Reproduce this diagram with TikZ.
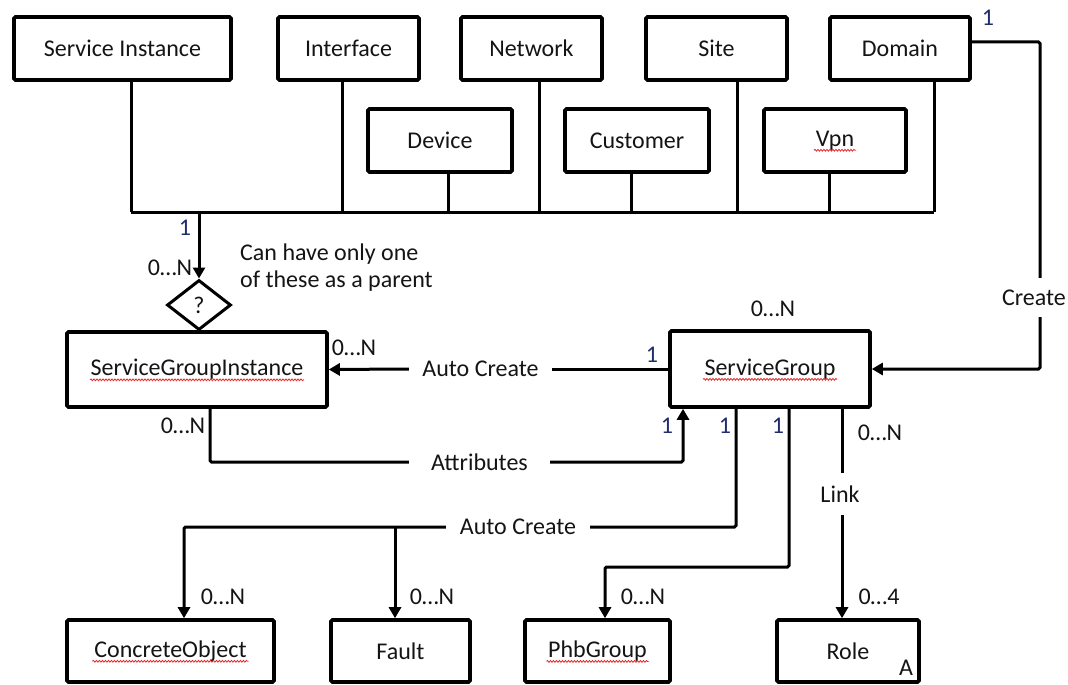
\documentclass[tikz,border=0pt]{standalone}
\usepackage{fontspec}
\setmainfont{Carlito}
\usetikzlibrary{arrows.meta,shapes.geometric,decorations.pathmorphing,calc}
\definecolor{ink}{RGB}{20,20,20}
\definecolor{mult}{RGB}{31,45,110}
\definecolor{spell}{RGB}{230,40,40}

\begin{document}
\begin{tikzpicture}[x=1pt,y=-1pt,
  font=\fontsize{24}{28}\selectfont,
  box/.style={draw, line width=3.6pt, rounded corners=1.5pt, inner sep=0pt, text=ink},
  wire/.style={line width=3pt, rounded corners=1.5pt},
  arr/.style={wire, -{Triangle[length=11pt,width=12pt]}},
  gap/.style={inner sep=0pt, text=ink},
  num/.style={inner sep=0pt, text=ink},
  one/.style={inner sep=0pt, text=mult},
  wavy/.style={draw=spell, line width=0.8pt, decorate,
    decoration={snake, amplitude=0.9pt, segment length=3pt}}
]
\useasboundingbox (0,0) rectangle (1068,685);

% top row of entities
\node[box, minimum width=217pt, minimum height=63pt] (si)    at (122.5,48.5) {Service Instance};
\node[box, minimum width=141pt, minimum height=63pt] (iface) at (348.5,48.5) {Interface};
\node[box, minimum width=141pt, minimum height=63pt] (net)   at (531.5,48.5) {Network};
\node[box, minimum width=141pt, minimum height=63pt] (site)  at (716.5,48.5) {Site};
\node[box, minimum width=140pt, minimum height=63pt] (dom)   at (900,48.5)   {Domain};
% second row
\node[box, minimum width=144pt, minimum height=63pt] (dev)   at (440,140.5)  {Device};
\node[box, minimum width=144pt, minimum height=63pt] (cust)  at (637,140.5)  {Customer};
\node[box, minimum width=142pt, minimum height=63pt] (vpn)   at (835,140.5)  {Vpn};

% parent choice
\node[draw, diamond, line width=3pt, inner sep=0pt, minimum width=64pt,
      minimum height=50pt, text=ink] (q) at (199,305) {?};

% groups
\node[box, minimum width=260pt, minimum height=75pt] (sgi) at (197,369.5) {ServiceGroupInstance};
\node[box, minimum width=200pt, minimum height=76pt] (sg)  at (770,369)   {ServiceGroup};

% bottom row
\node[box, minimum width=207pt, minimum height=62pt] (co)    at (170.5,651) {ConcreteObject};
\node[box, minimum width=139pt, minimum height=62pt] (fault) at (400.5,651) {Fault};
\node[box, minimum width=145pt, minimum height=62pt] (phb)   at (597.5,651) {PhbGroup};
\node[box, minimum width=142pt, minimum height=62pt] (role)  at (848,651)   {Role};
\node[num] (roleA) at (906,668) {A};

% connector labels sitting in gaps of the lines
\node[gap, minimum width=143pt] (ac1)  at (480.5,369) {Auto Create};
\node[gap, minimum width=141pt] (attr) at (479.5,462) {Attributes};
\node[gap, minimum width=144pt] (ac2)  at (518,527)   {Auto Create};
\node[gap, minimum height=42pt] (lk)   at (840,494)   {Link};
\node[gap, minimum height=39pt] (cr)   at (1034,297.5) {Create};
\coordinate (crX) at (1040,0);

% common bus joining the possible parents
\coordinate (busY) at (0,212);
\foreach \n/\dx in {si/8.5, iface/-6.5, net/7.5, site/20.5, dom/34, dev/8, cust/-6, vpn/-6}{
  \coordinate (drop) at ([xshift=\dx pt]\n.south);
  \draw[wire] (drop) -- (drop |- busY);
}
\coordinate (siD)  at ([xshift=8.5pt]si.south);
\coordinate (domD) at ([xshift=34pt]dom.south);
\draw[wire] (siD |- busY) -- (domD |- busY);
\draw[arr] (q.north |- busY) -- (q.north);

% Domain creates ServiceGroup
\coordinate (domR) at ([yshift=6.5pt]dom.east);
\draw[wire] (domR) -| (crX |- cr.north);
\draw[arr] (crX |- cr.south) |- (sg.east);

% ServiceGroup <-> ServiceGroupInstance
\draw[wire] (sg.west) -- (ac1.east);
\draw[arr] (ac1.west) -- (sgi.east);
\coordinate (sgiD) at ([xshift=13pt]sgi.south);
\coordinate (sgA)  at ([xshift=-87pt]sg.south);
\draw[wire] (sgiD) |- (attr.west);
\draw[arr] (attr.east) -| (sgA);

% ServiceGroup auto-creates objects and faults
\coordinate (sgC) at ([xshift=-34pt]sg.south);
\coordinate (coT) at ([xshift=13.5pt]co.north);
\coordinate (fT)  at ([xshift=-5.5pt]fault.north);
\draw[wire] (sgC) |- (ac2.east);
\draw[arr] (ac2.west) -| (coT);
\draw[arr] (fT |- ac2.west) -- (fT);

% PhbGroup
\coordinate (sgP) at ([xshift=19pt]sg.south);
\coordinate (pT)  at ([xshift=7.5pt]phb.north);
\coordinate (pkY) at (0,567);
\draw[arr] (sgP) -- (sgP |- pkY) -| (pT);

% Role link
\coordinate (sgL) at ([xshift=72pt]sg.south);
\coordinate (rT)  at ([xshift=-6pt]role.north);
\draw[wire] (sgL) -- (sgL |- lk.north);
\draw[arr] (rT |- lk.south) -- (rT);

% multiplicities
\node[one] (m1)  at (988,18)  {1};
\node[one] (m2)  at (185,228) {1};
\node[num] (m3)  at (170,268) {0…N};
\node[num] (m4)  at (354,348) {0…N};
\node[num] (m5)  at (183,426) {0…N};
\node[one] (m6)  at (652,355) {1};
\node[num] (m7)  at (773,309) {0…N};
\node[one] (m8)  at (667,426) {1};
\node[one] (m9)  at (725,426) {1};
\node[one] (m10) at (778,426) {1};
\node[num] (m11) at (880,433) {0…N};
\node[num] (m12) at (223,597) {0…N};
\node[num] (m13) at (432,597) {0…N};
\node[num] (m14) at (643,597) {0…N};
\node[num] (m15) at (879,597) {0…4};

% note on the parent choice
\node[num, align=left, anchor=west] (note) at (240,267.5)
  {Can have only one\\[-1pt]of these as a parent};

% spelling marks under the class names
\draw[wavy] ([xshift=-107pt,yshift=-4pt]sgi.base) -- ++(214,0);
\draw[wavy] ([xshift=-67pt,yshift=-4pt]sg.base) -- ++(134,0);
\draw[wavy] ([xshift=-21pt,yshift=-4pt]vpn.base) -- ++(42,0);
\draw[wavy] ([xshift=-78pt,yshift=-4pt]co.base) -- ++(156,0);
\draw[wavy] ([xshift=-51pt,yshift=-4pt]phb.base) -- ++(102,0);
\end{tikzpicture}
\end{document}
